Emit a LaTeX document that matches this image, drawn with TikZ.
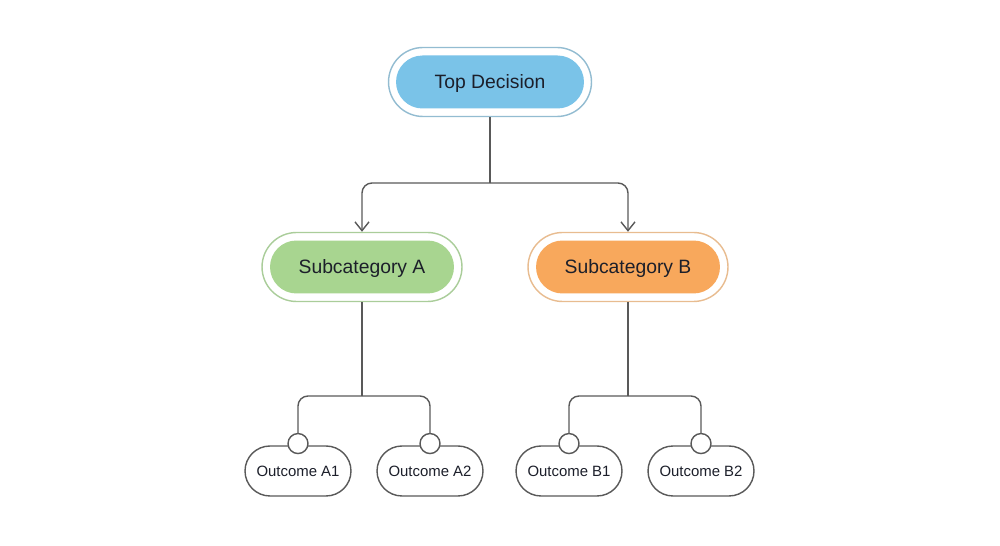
\documentclass[tikz,border=0pt]{standalone}
\usepackage{fontspec}
\setmainfont{Liberation Sans}
\usetikzlibrary{arrows.meta}

\definecolor{topblue}{HTML}{7AC3E8}
\definecolor{topring}{HTML}{93BCD1}
\definecolor{subgreen}{HTML}{A8D590}
\definecolor{greenring}{HTML}{AACD9A}
\definecolor{suborange}{HTML}{F8A85C}
\definecolor{orangering}{HTML}{E8BC90}
\definecolor{linegray}{HTML}{595959}
\definecolor{textdark}{HTML}{1C1F2A}

\begin{document}
\begin{tikzpicture}[x=0.02cm, y=-0.02cm,
    link/.style = {draw=linegray, line width=0.8pt},
    tip/.style = {-{Straight Barb[length=5pt, width=8pt]}},
    pill/.style = {rectangle, rounded corners=0.53cm, minimum height=1.06cm,
      text depth=0pt, text=textdark, font=\fontsize{11}{13}\selectfont},
    ring/.style = {rectangle, draw=#1, line width=0.8pt, fill=white,
      minimum height=1.38cm, rounded corners=0.69cm},
    outbox/.style = {rectangle, draw=linegray, line width=0.8pt, fill=white,
      minimum width=2.12cm, minimum height=1cm, rounded corners=0.5cm,
      text depth=0pt, text=textdark, font=\fontsize{8.5}{10}\selectfont},
    dot/.style = {circle, draw=linegray, line width=0.8pt, fill=white,
      minimum size=0.4cm, inner sep=0pt}
  ]
  \useasboundingbox (0,0) rectangle (1000,546);

  % top decision
  \node[ring=topring, minimum width=4.06cm] (topr) at (490,82) {};
  \node[pill, fill=topblue, minimum width=3.76cm] (top) at (490,82) {Top Decision};

  % subcategories
  \node[ring=greenring, minimum width=4cm] (ringA) at (362,267) {};
  \node[pill, fill=subgreen, minimum width=3.68cm] (subA) at (362,267) {Subcategory A};
  \node[ring=orangering, minimum width=4cm] (ringB) at (628,267) {};
  \node[pill, fill=suborange, minimum width=3.68cm] (subB) at (628,267) {Subcategory B};

  % outcomes
  \node[outbox] (outA1) at (298,471) {Outcome A1};
  \node[outbox] (outA2) at (430,471) {Outcome A2};
  \node[outbox] (outB1) at (569,471) {Outcome B1};
  \node[outbox] (outB2) at (701,471) {Outcome B2};

  \coordinate (busT) at (490,183);
  \coordinate (busA) at (362,396);
  \coordinate (busB) at (628,396);

  \draw[link] (topr.south) -- (busT);
  \draw[link, tip, rounded corners=0.2cm] (busT) -| (ringA.north);
  \draw[link, tip, rounded corners=0.2cm] (busT) -| (ringB.north);

  \draw[link] (ringA.south) -- (busA);
  \draw[link] (ringB.south) -- (busB);

  % connector dots
  \node[dot] (dotA1) at ([yshift=1pt]outA1.north) {};
  \node[dot] (dotA2) at ([yshift=1pt]outA2.north) {};
  \node[dot] (dotB1) at ([yshift=1pt]outB1.north) {};
  \node[dot] (dotB2) at ([yshift=1pt]outB2.north) {};

  \draw[link, rounded corners=0.2cm] (busA) -| (dotA1.north);
  \draw[link, rounded corners=0.2cm] (busA) -| (dotA2.north);
  \draw[link, rounded corners=0.2cm] (busB) -| (dotB1.north);
  \draw[link, rounded corners=0.2cm] (busB) -| (dotB2.north);

\end{tikzpicture}
\end{document}
